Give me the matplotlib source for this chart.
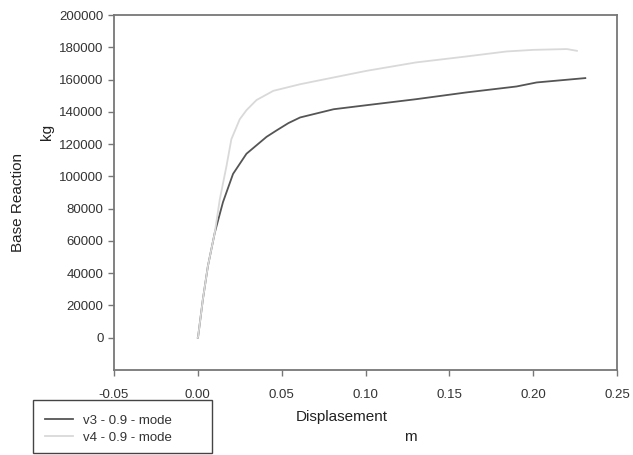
import matplotlib
matplotlib.use("Agg")
import matplotlib.pyplot as plt
from matplotlib.patches import Rectangle

plt.rcParams['font.family'] = ['Liberation Sans', 'DejaVu Sans']

v3_x = [0.0, 0.0002, 0.003, 0.006, 0.0101, 0.015, 0.021, 0.029, 0.037, 0.041, 0.047, 0.054,
        0.061, 0.081, 0.1006, 0.130, 0.160, 0.190, 0.202, 0.231]
v3_y = [0, 800, 23600, 44300, 65000, 84000, 101500, 114000, 121000, 124500, 128500, 133000,
        136500, 141600, 144100, 147800, 152000, 155700, 158200, 160900]

v4_x = [0.0, 0.0002, 0.003, 0.006, 0.0101, 0.0131, 0.0171, 0.020, 0.025, 0.029, 0.035, 0.045,
        0.061, 0.081, 0.1006, 0.130, 0.160, 0.184, 0.200, 0.220, 0.226]
v4_y = [0, 800, 23600, 44300, 65000, 85700, 106400, 123000, 135400, 141000, 147300, 153000,
        157100, 161300, 165400, 170600, 174300, 177400, 178400, 178900, 177800]

x_ticks = [-0.05, 0.00, 0.05, 0.10, 0.15, 0.20, 0.25]
y_ticks = [0, 20000, 40000, 60000, 80000, 100000, 120000, 140000, 160000, 180000, 200000]

fig = plt.figure(figsize=(6.33, 4.55), dpi=100)
ax = fig.add_axes([0.180, 0.187, 0.795, 0.780])

l3, = ax.plot(v3_x, v3_y, color='#555555', lw=1.3, label='v3 - 0.9 - mode')
l4, = ax.plot(v4_x, v4_y, color='#d9d9d9', lw=1.3, label='v4 - 0.9 - mode')

ax.set_xlim(-0.05, 0.25)
ax.set_ylim(-20000, 200000)
ax.set_xticks(x_ticks)
ax.set_xticklabels([f"{t:.2f}" for t in x_ticks])
ax.set_yticks(y_ticks)
ax.set_yticklabels([str(t) for t in y_ticks])

for s in ax.spines.values():
    s.set_color('#777777')
    s.set_linewidth(1.3)
ax.tick_params(axis='both', colors='#777777', labelcolor='#333333', labelsize=9.5,
               direction='out', length=4, width=1)
ax.tick_params(axis='x', pad=10)

fig.text(0.028, 0.555, 'Base Reaction', rotation=90, ha='center', va='center',
         fontsize=11, color='#222222')
fig.text(0.074, 0.710, 'kg', rotation=90, ha='center', va='center',
         fontsize=11, color='#222222')
fig.text(0.540, 0.083, 'Displasement', ha='center', va='center', fontsize=11, color='#222222')
fig.text(0.648, 0.040, 'm', ha='center', va='center', fontsize=11, color='#222222')

fig.patches.append(Rectangle((0.052, 0.004), 0.283, 0.116, transform=fig.transFigure,
                             facecolor='none', edgecolor='#444444', linewidth=1.0))

leg = fig.legend(handles=[l3, l4], loc='upper left', bbox_to_anchor=(0.071, 0.089),
                 frameon=False, fontsize=9.5, handlelength=2.1, handletextpad=0.75,
                 borderpad=0, labelspacing=0.35, borderaxespad=0)
for t in leg.get_texts():
    t.set_color('#333333')

fig.savefig('out.png', dpi=100)
